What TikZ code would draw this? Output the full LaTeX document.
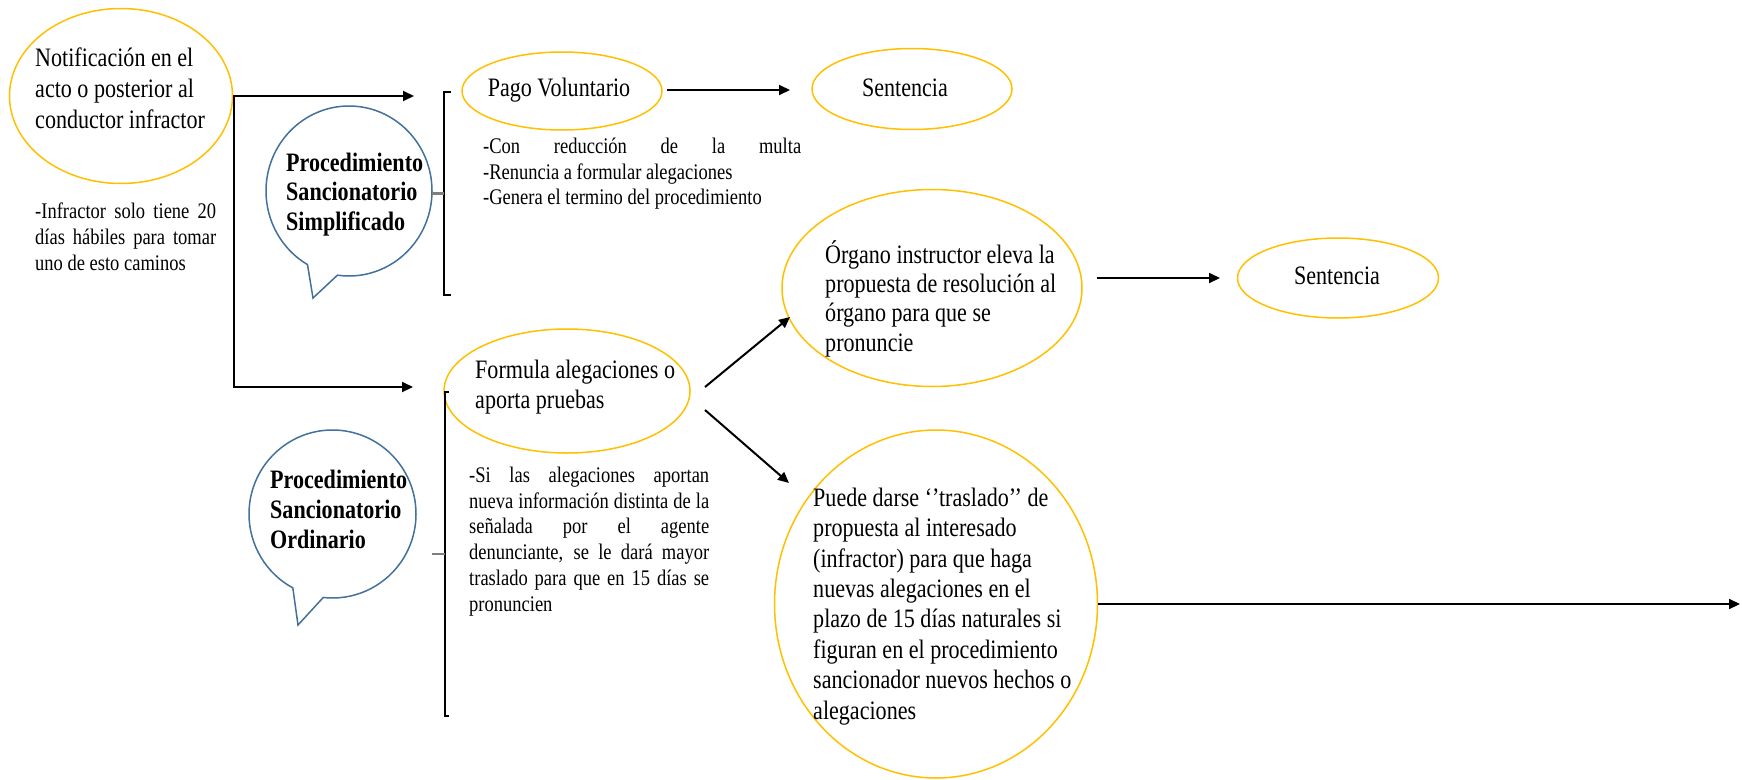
\documentclass[tikz,border=0pt]{standalone}
\usepackage{fontspec}
\setmainfont{Liberation Serif}[FakeStretch=0.83]
\usetikzlibrary{arrows.meta,shapes.geometric,shapes.callouts,calc}
\definecolor{gold}{HTML}{FFC000}
\definecolor{bblue}{HTML}{41719C}
\definecolor{lgray}{HTML}{7F7F7F}
\newcommand{\bigfnt}{\fontsize{26.6}{31}\selectfont}
\newcommand{\smfnt}{\fontsize{22.3}{26.3}\selectfont}
\newcommand{\bst}{\noindent\rule{0pt}{24pt}}
\newcommand{\sst}{\noindent\rule{0pt}{20pt}}
\hyphenpenalty=10000
\exhyphenpenalty=10000
\tolerance=9999
\tikzset{
  oval/.style={ellipse, draw=gold, line width=1.5pt, inner sep=0pt},
  bubble/.style={ellipse callout, draw=bblue, line width=1.5pt, inner sep=0pt, callout pointer arc=22},
  arr/.style={draw=black, line width=2pt, -{Triangle[length=11pt,width=10pt]}},
  brk/.style={draw=black, line width=1.5pt},
  stub/.style={draw=lgray, line width=2.5pt},
  bigtext/.style={inner sep=0pt, anchor=north west, font=\bigfnt, align=flush left},
  smalltext/.style={inner sep=0pt, anchor=north west, font=\smfnt, align=justify},
  onetext/.style={inner sep=0pt, anchor=base, font=\bigfnt}
}
\begin{document}
\begin{tikzpicture}[x=1pt,y=-1pt]
\fill[white] (0,0) rectangle (1742,779);
\useasboundingbox (0,0) rectangle (1742,779);

% ellipses
\node[oval, minimum width=223pt, minimum height=175pt] (notif) at (121,96) {};
\node[oval, minimum width=200pt, minimum height=78pt] (pago) at (562,91) {};
\node[oval, minimum width=200pt, minimum height=81pt] (sent1) at (912,89) {};
\node[oval, minimum width=300pt, minimum height=197pt] (organo) at (932,288) {};
\node[oval, minimum width=201pt, minimum height=80pt] (sent2) at (1338,278) {};
\node[oval, minimum width=246pt, minimum height=124pt] (formula) at (567,391) {};
\node[oval, minimum width=323pt, minimum height=348pt] (puede) at (936,604) {};

% speech bubbles
\node[bubble, minimum width=166pt, minimum height=170pt, callout absolute pointer={(313,298)}] (psimp) at (349,191) {};
\node[bubble, minimum width=167pt, minimum height=168pt, callout absolute pointer={(298,625)}] (pord) at (332.5,514) {};

% coordinates
\coordinate (j1) at (234,96);
\coordinate (t1) at (414,96);
\coordinate (t2) at (413,387);
\coordinate (br1t) at (444,92);
\coordinate (br1b) at (444,295);
\coordinate (br2t) at (445,392);
\coordinate (br2b) at (445,716);
\coordinate (pa) at (667,90);
\coordinate (pb) at (790,90);
\coordinate (oa) at (1097,278);
\coordinate (ob) at (1220,278);
\coordinate (fa) at (705,387);
\coordinate (fb) at (790,317);
\coordinate (fc) at (705,410);
\coordinate (fd) at (789,483);
\coordinate (tend) at (1740,604);

% connectors
\draw[arr] (notif.east) -- (t1);
\draw[arr] (j1) |- (t2);
\draw[arr] (pa) -- (pb);
\draw[arr] (oa) -- (ob);
\draw[arr] (fa) -- (fb);
\draw[arr] (fc) -- (fd);
\draw[arr] (puede.east) -- (tend);

% brackets
\draw[brk] ([xshift=7pt]br1t) -- (br1t) -- (br1b) -- ([xshift=7pt]br1b);
\draw[brk] ([xshift=4pt]br2t) -- (br2t) -- (br2b) -- ([xshift=4pt]br2b);
\draw[stub] ($(br1t)!0.5!(br1b)$) -- ++(-12,0);
\draw[stub] ($(br2t)!0.5!(br2b)$) -- ++(-13,0);

% texts
\node[bigtext, text width=200pt] (tnotif) at (35,42) {\bst Notificación en el\\acto o posterior al\\conductor infractor};
\node[smalltext, text width=181pt] (tinfr) at (35,198) {\sst -Infractor solo tiene 20\linebreak días hábiles para tomar\linebreak uno de esto caminos};
\node[bigtext, font=\fontsize{26.6}{29.5}\selectfont\bfseries, text width=170pt] (tsimp) at (286,147) {\bst Procedimiento\\Sancionatorio\\Simplificado};
\node[onetext] (tpago) at (559,96) {Pago Voluntario};
\node[onetext] (tsent1) at (905,96) {Sentencia};
\node[smalltext, text width=318pt, font=\fontsize{22.3}{25.8}\selectfont] (tcon) at (483,133) {\sst -Con reducción de la multa\linebreak -Renuncia a formular alegaciones\\-Genera el termino del procedimiento};
\node[bigtext, text width=260pt, font=\fontsize{26.6}{29.3}\selectfont] (torg) at (825,239) {\bst Órgano instructor eleva la\\propuesta de resolución al\\órgano para que se\\pronuncie};
\node[onetext] (tsent2) at (1337,284) {Sentencia};
\node[bigtext, text width=230pt, font=\fontsize{26.6}{30}\selectfont] (tform) at (475,354) {\bst Formula alegaciones o\\aporta pruebas};
\node[bigtext, font=\fontsize{26.6}{30}\selectfont\bfseries, text width=170pt] (tord) at (270,464) {\bst Procedimiento\\Sancionatorio\\Ordinario};
\node[smalltext, text width=240pt, font=\fontsize{22.3}{25.8}\selectfont] (tsi) at (469,462) {\sst -Si las alegaciones aportan\linebreak nueva información distinta de la\linebreak señalada por el agente\linebreak denunciante, se le dará mayor\linebreak traslado para que en 15 días se\linebreak pronuncien};
\node[bigtext, text width=290pt, font=\fontsize{26.6}{30.4}\selectfont] (tpuede) at (813,482) {\bst Puede darse ‘’traslado’’ de\\propuesta al interesado\\(infractor) para que haga\\nuevas alegaciones en el\\plazo de 15 días naturales si\\figuran en el procedimiento\\sancionador nuevos hechos o\\alegaciones};
\end{tikzpicture}
\end{document}
